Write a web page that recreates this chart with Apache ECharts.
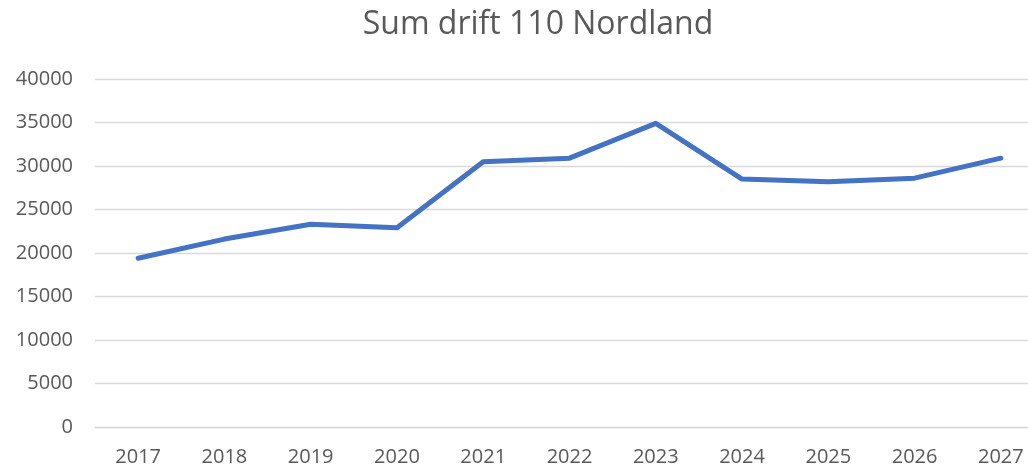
<!DOCTYPE html>
<html><head><meta charset="utf-8">
<script src="https://cdn.jsdelivr.net/npm/echarts@6/dist/echarts.min.js"></script>
<style>html,body{margin:0;padding:0;background:#fff}#c{width:1028px;height:466px}</style>
</head><body><div id="c"></div>
<script>
const categories = ['2017','2018','2019','2020','2021','2022','2023','2024','2025','2026','2027'];
const values = [19400, 21600, 23300, 22900, 30500, 30900, 34900, 28500, 28200, 28600, 30900];
const titleText = 'Sum drift 110 Nordland';
const chart = echarts.init(document.getElementById('c'));
chart.setOption({
  animation: false,
  title: { text: titleText, left: 533, top: 4, textAlign: 'center',
    textStyle: { fontFamily: 'Open Sans', fontSize: 32, fontWeight: 'normal', color: '#595959' } },
  grid: { left: 95, width: 949, top: 79, height: 348, containLabel: false, outerBoundsMode: 'none' },
  xAxis: { type: 'category', data: categories, boundaryGap: true,
    axisLine: { lineStyle: { color: '#d9d9d9', width: 1.3 } }, axisTick: { show: false },
    axisLabel: { color: '#595959', fontFamily: 'Open Sans', fontSize: 20, margin: 20 } },
  yAxis: { type: 'value', min: 0, max: 40000, interval: 5000,
    axisLine: { show: false }, axisTick: { show: false },
    splitLine: { lineStyle: { color: '#d9d9d9', width: 1.3 } },
    axisLabel: { color: '#595959', fontFamily: 'Open Sans', fontSize: 20, margin: 22,
      formatter: function (v) { return String(v); } } },
  series: [{ type: 'line', data: values, showSymbol: false, symbol: 'none',
    lineStyle: { color: '#4472C4', width: 5, cap: 'round', join: 'round' } }]
});
</script></body></html>
